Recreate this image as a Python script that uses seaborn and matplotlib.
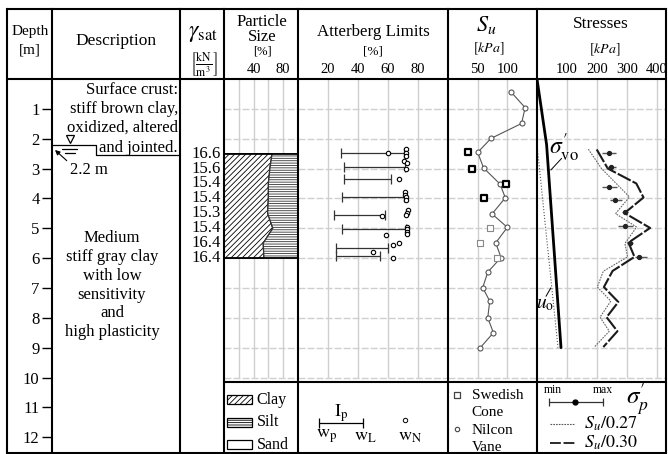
import numpy as np
import pandas as pd
import matplotlib
matplotlib.use("Agg")
import matplotlib.pyplot as plt
import seaborn as sns
from matplotlib.patches import Rectangle

# ------------------------------------------------------------------ data
depth_ticks = list(range(1, 13))

gamma_depth = [2.5, 3.0, 3.5, 4.0, 4.5, 5.0, 5.5, 6.0]
gamma_sat = ["16.6", "15.6", "15.4", "15.4", "15.3", "15.4", "16.4", "16.4"]

grain_depth = [2.5, 3.0, 3.5, 4.0, 4.5, 5.0, 5.5, 6.0]
clay_pct = [65, 62, 60, 60, 59, 66, 53, 54]
silt_top = [100, 100, 100, 100, 100, 100, 100, 100]

atter_depth = [2.49, 2.96, 3.36, 3.95, 4.54, 5.01, 5.65, 5.93]
w_P = [28.5, 30.8, 30.8, 29.0, 23.8, 29.4, 25.6, 25.6]
w_L = [70.8, 71.5, 62.3, 70.8, 58.0, 71.7, 60.3, 54.7]

wN_depth = [2.36, 2.47, 2.47, 2.58, 2.74, 2.83, 3.00, 3.35, 3.78, 3.87, 3.95,
            4.06, 4.40, 4.49, 4.56, 4.60, 4.96, 5.04, 5.12, 5.20, 5.21, 5.49,
            5.57, 5.80, 6.00]
wN = [72.1, 60.1, 72.1, 72.1, 70.8, 72.6, 71.7, 67.0, 71.0, 71.0, 71.7,
      71.7, 73.5, 72.6, 72.1, 55.8, 72.6, 72.6, 72.6, 72.6, 58.7, 67.0,
      63.3, 50.2, 63.6]

vane_depth = [0.43, 0.96, 1.49, 1.99, 2.46, 2.98, 3.52, 3.98, 4.52, 4.97,
              5.49, 5.98, 6.47, 6.99, 7.44, 8.00, 8.50, 9.00]
su_vane = [106, 130, 124, 72.5, 50, 60, 87.7, 96.6, 74.2, 100,
           80.4, 89.4, 67, 58.5, 70.3, 67, 76.5, 54.5]

cone_depth_a = [2.45, 3.02, 3.53, 4.00]
su_cone_a = [33, 40.5, 97, 60]
cone_depth_b = [4.98, 5.51, 5.98]
su_cone_b = [71.5, 54.5, 82]

svo_depth = [0.0, 2.2, 9.0]
sigma_vo = [0, 32, 80]
u0_depth = [2.2, 9.0]
u0 = [0, 70]

heavy_depth = [2.36, 3.0, 3.5, 3.97, 4.49, 4.99, 5.48, 5.96, 6.43, 6.97,
               7.47, 7.98, 8.45, 8.98]
su_heavy = [199, 236, 331, 355, 292, 377, 305, 325, 252, 223, 271, 232, 268, 221]
thin_depth = [2.35, 3.0, 3.95, 4.51, 4.96, 5.51, 5.96, 6.44, 6.97, 7.44,
              7.98, 8.45, 8.98]
su_thin = [171, 215, 308, 262, 332, 293, 302, 221, 201, 246, 210, 241, 191]

sp_depth = [2.49, 2.96, 3.63, 4.04, 4.47, 4.93, 5.51, 5.96]
sigma_p = [240, 246, 240, 260, 293, 293, 310, 341]
sigma_p_min = [216, 233, 216, 243, 284, 271, 301, 327]
sigma_p_max = [264, 264, 267, 282, 302, 321, 321, 366]

# ------------------------------------------------------------------ layout
W, H = 668, 454
TOP, BOT = 79, 453
PPM = 29.85
DMAX = (BOT - TOP) / PPM
COLS = [7, 52, 180, 224, 298, 448, 537, 666]

sns.set_style("white")
plt.rcParams["font.family"] = ["Liberation Serif", "DejaVu Serif"]
plt.rcParams["mathtext.fontset"] = "stix"
plt.rcParams["text.color"] = "black"
plt.rcParams["xtick.color"] = "black"
plt.rcParams["ytick.color"] = "black"
plt.rcParams["hatch.linewidth"] = 0.6

fig = plt.figure(figsize=(W / 100, H / 100), dpi=100)
fig.patch.set_facecolor("white")

GRID = "#cfcfcf"


def col_axes(x0, x1, xlim):
    ax = fig.add_axes([x0 / W, 1 - BOT / H, (x1 - x0) / W, (BOT - TOP) / H])
    ax.set_facecolor("none")
    for s in ax.spines.values():
        s.set_visible(False)
    return ax


def finish(ax, xlim):
    ax.set_xlim(*xlim)
    ax.set_ylim(DMAX, 0)
    ax.set_ylabel("")
    ax.set_xlabel("")


def grid(ax, xs, xlim):
    ax.vlines(xs, 0, 10, colors=GRID, lw=1.0, zorder=0)
    ax.hlines(range(1, 11), xlim[0], xlim[1], colors=GRID, lw=1.0,
              linestyles=(0, (5, 1.5)), zorder=0)


def top_ticks(ax, ticks):
    ax.xaxis.tick_top()
    ax.set_xticks(ticks)
    ax.set_xticklabels([str(t) for t in ticks])
    ax.set_yticks([])
    ax.tick_params(axis="x", top=True, bottom=False, length=0, pad=2.2,
                   labelsize=10.5)


# ---- description column carries the depth ticks
ax_d = col_axes(52, 180, (52, 180))
ax_d.set_xticks([])
ax_d.set_yticks(depth_ticks)
ax_d.set_yticklabels([str(t) for t in depth_ticks])
ax_d.tick_params(axis="y", left=True, direction="out", length=7.5, width=1.0,
                 pad=1.5, labelsize=12)
finish(ax_d, (52, 180))

# ---- gamma_sat column
ax_g = col_axes(180, 224, (180, 224))
ax_g.set_xticks([]); ax_g.set_yticks([])
for d, g in zip(gamma_depth, gamma_sat):
    ax_g.text(221, d, g, ha="right", va="center", fontsize=12)
finish(ax_g, (180, 224))

# ---- particle size
xl = (0, 100)
ax_p = col_axes(224, 298, xl)
grid(ax_p, [20, 40, 60, 80], xl)
ax_p.fill_betweenx(grain_depth, 0, clay_pct, facecolor="white",
                   edgecolor="black", hatch="//////", lw=0.9, zorder=2)
ax_p.fill_betweenx(grain_depth, clay_pct, silt_top, facecolor="white",
                   edgecolor="#333333", hatch="-------", lw=0.9, zorder=2)
ax_p.plot([0, 100], [grain_depth[0]] * 2, color="black", lw=1.2, zorder=3)
ax_p.plot([0, 100], [grain_depth[-1]] * 2, color="black", lw=1.2, zorder=3)
top_ticks(ax_p, [40, 80])
# legend
for (lab, hatch, dc) in [("Clay", "//////", 10.74), ("Silt", "-------", 11.5),
                         ("Sand", "", 12.25)]:
    ax_p.add_patch(Rectangle((4, dc - 0.15), 33.5, 0.3, facecolor="white",
                             edgecolor="black", hatch=hatch, lw=0.9))
    ax_p.text(44, dc, lab, ha="left", va="center", fontsize=11.5)
finish(ax_p, xl)

# ---- Atterberg limits
xl = (0, 100)
ax_a = col_axes(298, 448, xl)
grid(ax_a, [20, 40, 60, 80], xl)
mid = [(p + l) / 2 for p, l in zip(w_P, w_L)]
half = [(l - p) / 2 for p, l in zip(w_P, w_L)]
ax_a.errorbar(mid, atter_depth, xerr=half, fmt="none", ecolor="#333333",
              elinewidth=0.9, capsize=3.5, capthick=0.9, zorder=3)
sns.scatterplot(x=wN, y=wN_depth, ax=ax_a, marker="o", s=10, color="white",
                edgecolor="black", linewidth=0.8, zorder=4, legend=False)
top_ticks(ax_a, [20, 40, 60, 80])
# legend
ax_a.errorbar([28.5], [11.53], xerr=[14.5], fmt="none", ecolor="black",
              elinewidth=0.9, capsize=3.5, capthick=0.9)
ax_a.text(28.5, 11.2, r"$\mathrm{I_p}$", ha="center", va="center", fontsize=13)
ax_a.text(19, 11.98, r"$\mathrm{w_p}$", ha="center", va="center", fontsize=13)
ax_a.text(45, 11.98, r"$\mathrm{w_L}$", ha="center", va="center", fontsize=13)
ax_a.scatter([71.5], [11.42], marker="o", s=10, facecolor="white",
             edgecolor="black", linewidth=0.7)
ax_a.text(75, 11.98, r"$\mathrm{w_N}$", ha="center", va="center", fontsize=13)
finish(ax_a, xl)

# ---- undrained shear strength
xl = (0, 150)
ax_s = col_axes(448, 537, xl)
grid(ax_s, [50, 100], xl)
sns.lineplot(x=su_vane, y=vane_depth, ax=ax_s, sort=False, estimator=None,
             color="#555555", lw=0.8, marker="o", markersize=3.6,
             markerfacecolor="white", markeredgecolor="#555555",
             markeredgewidth=0.8, zorder=3)
sns.scatterplot(x=su_cone_a, y=cone_depth_a, ax=ax_s, marker="s", s=16,
                color="white", edgecolor="black", linewidth=1.6, zorder=4,
                legend=False)
sns.scatterplot(x=su_cone_b, y=cone_depth_b, ax=ax_s, marker="s", s=16,
                color="white", edgecolor="#888888", linewidth=0.8, zorder=4,
                legend=False)
top_ticks(ax_s, [50, 100])
# legend
ax_s.scatter([15.5], [10.57], marker="s", s=16, facecolor="white",
             edgecolor="#444444", linewidth=0.9)
ax_s.scatter([15.5], [11.72], marker="o", s=10, facecolor="white",
             edgecolor="#444444", linewidth=0.8)
for lab, dc in [("Swedish", 10.6), ("Cone", 11.17), ("Nilcon", 11.78),
                ("Vane", 12.35)]:
    ax_s.text(40, dc, lab, ha="left", va="center", fontsize=11)
finish(ax_s, xl)

# ---- stresses
xl = (0, 430)
ax_t = col_axes(537, 666, xl)
grid(ax_t, [100, 200, 300, 400], xl)
sns.lineplot(x=u0, y=u0_depth, ax=ax_t, sort=False, estimator=None,
             color="#555555", lw=0.8, linestyle=":", zorder=3)
sns.lineplot(x=sigma_vo, y=svo_depth, ax=ax_t, sort=False, estimator=None,
             color="black", lw=2.0, zorder=3)
sns.lineplot(x=su_thin, y=thin_depth, ax=ax_t, sort=False, estimator=None,
             color="#666666", lw=0.8, linestyle=(0, (1.5, 1)), zorder=3)
sns.lineplot(x=su_heavy, y=heavy_depth, ax=ax_t, sort=False, estimator=None,
             color="#1a1a1a", lw=1.5, linestyle=(0, (7, 1)), zorder=3)
sp_lo = [s - m for s, m in zip(sigma_p, sigma_p_min)]
sp_hi = [m - s for s, m in zip(sigma_p, sigma_p_max)]
ax_t.errorbar(sigma_p, sp_depth, xerr=[sp_lo, sp_hi], fmt="o", ms=2.8,
              color="#222222", ecolor="#555555", elinewidth=1.0, capsize=0,
              zorder=4)
top_ticks(ax_t, [100, 200, 300, 400])
ax_t.text(88, 2.3, r"$\sigma_{\mathrm{vo}}^{\prime}$", ha="center",
          va="center", fontsize=17)
ax_t.plot([82, 46], [2.66, 3.05], color="black", lw=0.7)
ax_t.text(26, 7.55, r"$u_{\mathrm{o}}$", ha="center", va="center", fontsize=14)
ax_t.plot([30, 46], [7.28, 7.0], color="black", lw=0.7)
# legend
ax_t.text(52, 10.42, "min", ha="center", va="center", fontsize=8.5)
ax_t.text(220, 10.42, "max", ha="center", va="center", fontsize=8.5)
ax_t.errorbar([127], [10.83], xerr=[[86], [92]], fmt="o", ms=3.5,
              color="black", ecolor="#333333", elinewidth=0.9, capsize=3,
              capthick=0.9)
ax_t.text(335, 10.72, r"$\sigma_p^{\prime}$", ha="center", va="center",
          fontsize=18)
ax_t.plot([43, 127], [11.56, 11.56], color="#555555", lw=0.8,
          linestyle=(0, (1.5, 1)))
ax_t.text(158, 11.56, r"$S_u/0.27$", ha="left", va="center", fontsize=13)
ax_t.plot([43, 127], [12.19, 12.19], color="#1a1a1a", lw=1.3,
          linestyle=(0, (6, 1.5)))
ax_t.text(158, 12.19, r"$S_u/0.30$", ha="left", va="center", fontsize=13)
finish(ax_t, xl)

# ------------------------------------------------------------------ overlay
ov = fig.add_axes([0, 0, 1, 1])
ov.set_xlim(0, W)
ov.set_ylim(H, 0)
ov.axis("off")
ov.patch.set_alpha(0)
LW = 1.5
for x in COLS:
    ov.plot([x, x], [9, BOT], color="black", lw=LW, solid_capstyle="projecting")
ov.plot([7, 666], [9, 9], color="black", lw=LW)
ov.plot([7, 666], [TOP, TOP], color="black", lw=LW)
ov.plot([7, 666], [BOT, BOT], color="black", lw=LW)
ov.plot([224, 666], [382, 382], color="black", lw=LW)

# header texts
ov.text(30, 32, "Depth", ha="center", va="center", fontsize=11)
ov.text(30, 50, "[m]", ha="center", va="center", fontsize=11)
ov.text(116, 41, "Description", ha="center", va="center", fontsize=12.5)
ov.text(203, 33, r"$\gamma_{\mathrm{sat}}$", ha="center", va="center",
        fontsize=17)
ov.text(204, 65, r"$\left[\frac{\mathrm{kN}}{\mathrm{m^3}}\right]$",
        ha="center", va="center", fontsize=12)
ov.text(262, 22, "Particle", ha="center", va="center", fontsize=12)
ov.text(262, 37, "Size", ha="center", va="center", fontsize=12)
ov.text(262, 52, "[%]", ha="center", va="center", fontsize=9)
ov.text(373, 32, "Atterberg Limits", ha="center", va="center", fontsize=12.2)
ov.text(373, 52, "[%]", ha="center", va="center", fontsize=9.5)
ov.text(486, 25, r"$S_u$", ha="center", va="center", fontsize=16)
ov.text(489, 49, r"$[kPa]$", ha="center", va="center", fontsize=10)
ov.text(601, 24, "Stresses", ha="center", va="center", fontsize=12.4)
ov.text(605, 50, r"$[kPa]$", ha="center", va="center", fontsize=10)

# description texts
for line, yb in zip(["Surface crust:", "stiff brown clay,", "oxidized, altered",
                     "and jointed."], [94, 113, 132, 152]):
    ov.text(178, yb, line, ha="right", va="baseline", fontsize=12)
for line, yb in zip(["Medium", "stiff gray clay", "with low", "sensitivity",
                     "and", "high plasticity"], [242, 261, 280, 299, 317, 336]):
    ov.text(112, yb, line, ha="center", va="baseline", fontsize=12)

# water table / layer boundary
ov.plot([52, 96, 96, 180], [145, 145, 155, 155], color="black", lw=0.9)
ov.plot([70], [139.3], marker="v", ms=6, mfc="white", mec="black", mew=0.9)
ov.plot([62, 77], [149, 149], color="black", lw=0.9)
ov.plot([64.5, 74.5], [152.5, 152.5], color="black", lw=0.9)
ov.annotate("2.2 m", xy=(55, 150), xytext=(70, 170), ha="left", va="center",
            fontsize=12,
            arrowprops=dict(arrowstyle="-|>", lw=0.8, color="black",
                            shrinkA=0, shrinkB=0, mutation_scale=7,
                            relpos=(0.0, 0.9)))

fig.savefig("out.png", dpi=100, facecolor="white")
